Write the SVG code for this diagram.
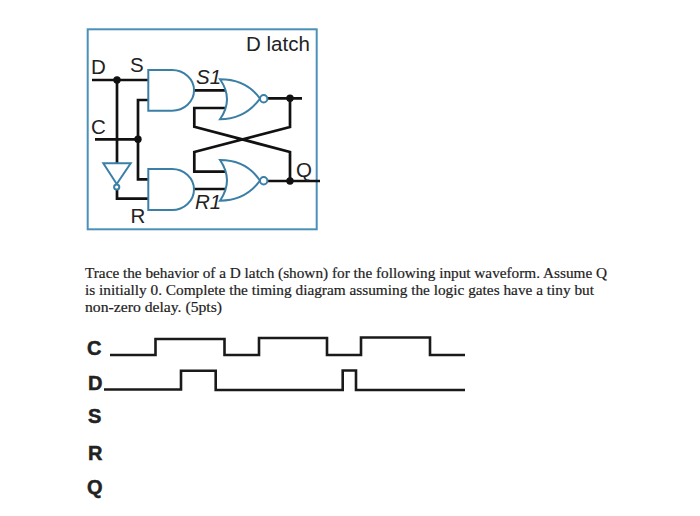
<svg xmlns="http://www.w3.org/2000/svg" width="700" height="516" viewBox="0 0 700 516">
<style>
.w{fill:none;stroke:#111;stroke-width:2.7;stroke-linejoin:miter}
.g{fill:#fff;stroke:#3b7fa6;stroke-width:2}
.d{fill:#111}
.t{font-family:"Liberation Sans",Arial,sans-serif;font-size:20.5px;fill:#222}
.i{font-style:italic}
.p{font-family:"Liberation Serif","Times New Roman",serif;font-size:15.5px;fill:#222;stroke:#222;stroke-width:.2}
.b{font-family:"Liberation Sans",Arial,sans-serif;font-size:20px;font-weight:700;fill:#222;stroke:#222;stroke-width:.5}
.v{fill:none;stroke:#1a1a1a;stroke-width:2.6}
</style>
<rect width="700" height="516" fill="#fff"/>
<rect id="frame" x="87.7" y="29.3" width="229" height="200" fill="none" stroke="#4a90b8" stroke-width="2"/>
<g id="connectors">
<path class="w" d="M92 80H148M117 80V164M95 139.300H138M148 100H138V179.300H148M117 190V198.700H148"/>
<path class="w" d="M194 90.300H226M194 189H226M226 108H194.300V126.700L290 152V181M267 98.300H302M290 98.300V127L194.300 152V171.700H226M267 181H320"/>
<circle class="d" cx="117" cy="80" r="3.700"/>
<circle class="d" cx="138" cy="139.300" r="3.700"/>
<circle class="d" cx="290" cy="98.300" r="3.700"/>
<circle class="d" cx="290" cy="181" r="3.700"/>
</g>
<g id="and-top"><path class="g" d="M148.300 70H172A22 20.300 0 0 1 172 110.700H148.300Z"/></g>
<g id="and-bottom"><path class="g" d="M148.300 169H172A22 20.500 0 0 1 172 210H148.300Z"/></g>
<g id="nor-top"><path class="g" d="M220 79.300C238 79.300 251 86 260 98.700C251 111 238 119.300 220 119.300Q234 99.300 220 79.300Z"/><circle class="g" cx="263.700" cy="98.700" r="3.700"/></g>
<g id="nor-bottom"><path class="g" d="M220 160C238 160 251 167 260 180.700C251 193 238 200.700 220 200.700Q234 180.300 220 160Z"/><circle class="g" cx="263.700" cy="180.700" r="3.700"/></g>
<g id="inverter"><path class="g" d="M103.300 163.300H130.700L116.700 184Z"/><circle class="g" cx="116.700" cy="187" r="2.600"/></g>
<g id="labels">
<text class="t" x="246" y="50.500">D latch</text>
<text class="t" x="91" y="73.500">D</text>
<text class="t" x="130" y="72">S</text>
<text class="t i" x="196" y="84">S1</text>
<text class="t" x="91" y="134">C</text>
<text class="t" x="296" y="176.500">Q</text>
<text class="t i" x="195" y="209">R1</text>
<text class="t" x="130.500" y="222.500">R</text>
</g>
<g id="question">
<text class="p" x="85" y="278" textLength="522" lengthAdjust="spacingAndGlyphs">Trace the behavior of a D latch (shown) for the following input waveform. Assume Q</text>
<text class="p" x="85" y="295" textLength="509" lengthAdjust="spacingAndGlyphs">is initially 0. Complete the timing diagram assuming the logic gates have a tiny but</text>
<text class="p" x="85" y="312" textLength="137" lengthAdjust="spacingAndGlyphs">non-zero delay. (5pts)</text>
</g>
<g id="timing">
<path class="v" d="M110 355H155.500V339H224.500V355H259V338H327V355H361V337.500H430V355H465"/>
<path class="v" d="M104 389.500H181V370.700H215.700V390H342.700V370.500H356V390H465"/>
<text class="b" x="87" y="355">C</text>
<text class="b" x="88" y="389.500">D</text>
<text class="b" x="88" y="423">S</text>
<text class="b" x="88" y="460">R</text>
<text class="b" x="87" y="494">Q</text>
</g>
</svg>
